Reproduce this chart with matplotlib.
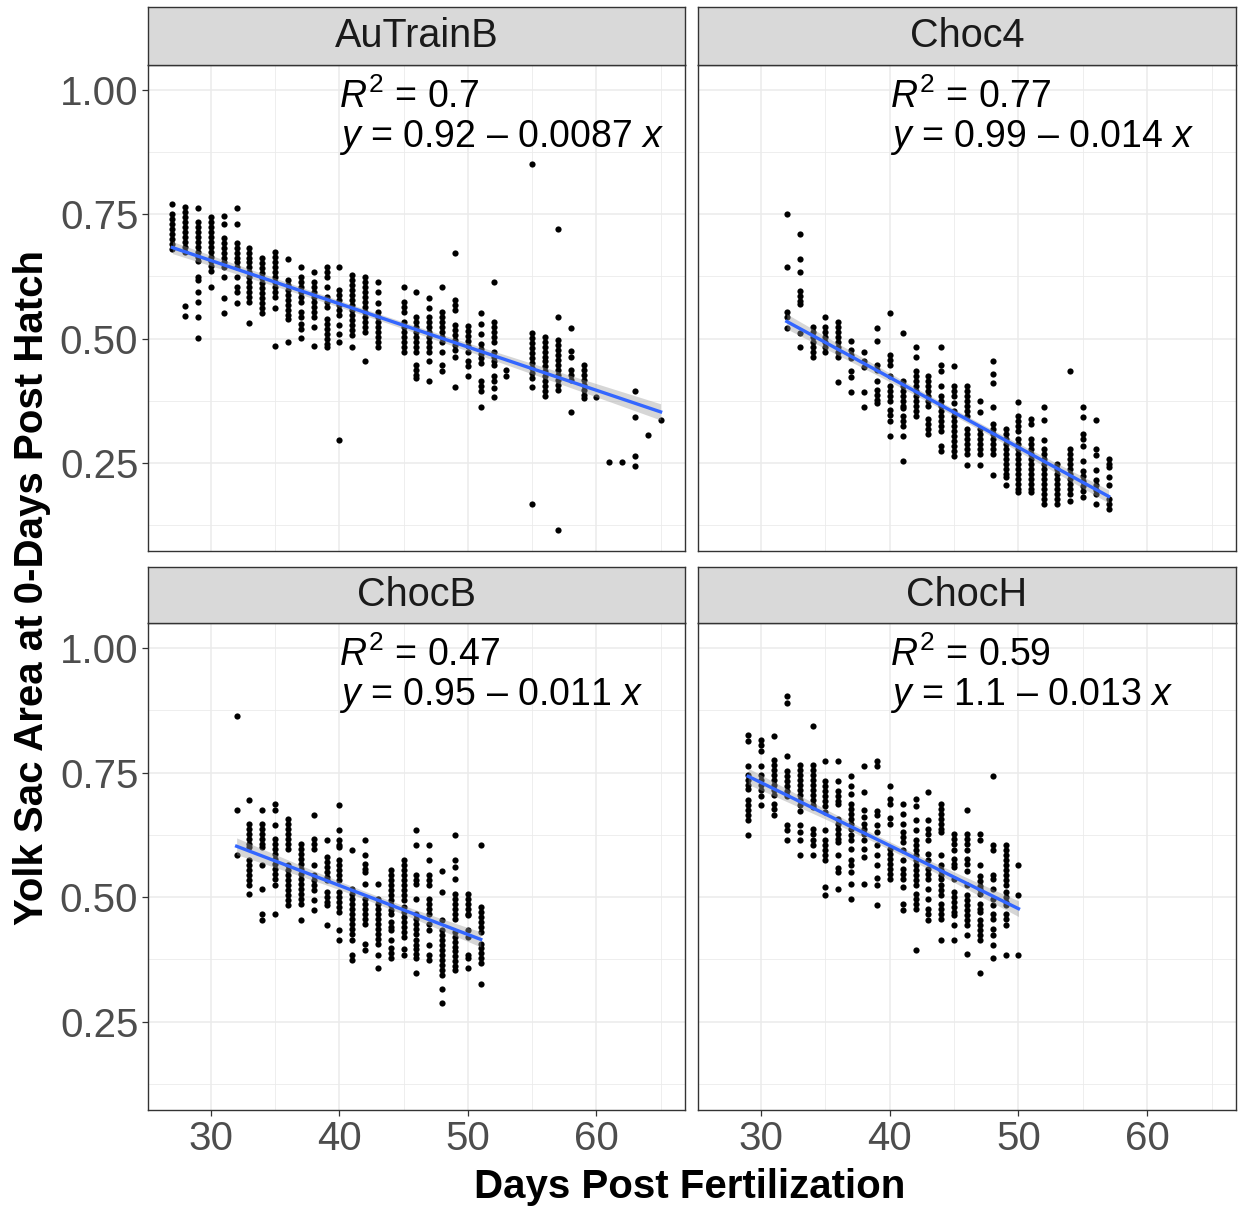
import numpy as np
import matplotlib.pyplot as plt

plt.rcParams['font.family'] = ['Liberation Sans', 'DejaVu Sans']
plt.rcParams['mathtext.fontset'] = 'custom'
plt.rcParams['mathtext.rm'] = 'Liberation Sans'
plt.rcParams['mathtext.it'] = 'Liberation Sans:italic'

# yolk sac area per day post fertilization
autrainb = {
    27: [0.77, 0.75, 0.74, 0.73, 0.72, 0.71, 0.70, 0.69, 0.68],
    28: [0.765, 0.755, 0.745, 0.735, 0.725, 0.715, 0.705, 0.695, 0.685, 0.675, 0.565, 0.545],
    29: [0.763, 0.735, 0.725, 0.715, 0.705, 0.695, 0.685, 0.675, 0.665, 0.655, 0.624, 0.617, 0.594, 0.574, 0.543, 0.502],
    30: [0.745, 0.735, 0.725, 0.715, 0.705, 0.695, 0.685, 0.675, 0.665, 0.655, 0.645, 0.635, 0.604],
    31: [0.747, 0.731, 0.703, 0.693, 0.683, 0.673, 0.663, 0.653, 0.644, 0.624, 0.582, 0.552],
    32: [0.762, 0.731, 0.693, 0.683, 0.673, 0.663, 0.653, 0.643, 0.624, 0.604, 0.594, 0.572],
    33: [0.683, 0.673, 0.663, 0.653, 0.643, 0.633, 0.623, 0.613, 0.603, 0.593, 0.583, 0.573, 0.532],
    34: [0.662, 0.652, 0.642, 0.632, 0.622, 0.612, 0.602, 0.592, 0.582, 0.572, 0.562, 0.552],
    35: [0.674, 0.664, 0.654, 0.644, 0.634, 0.624, 0.614, 0.604, 0.594, 0.584, 0.562, 0.485],
    36: [0.66, 0.617, 0.607, 0.597, 0.587, 0.577, 0.567, 0.557, 0.547, 0.54, 0.494],
    37: [0.644, 0.624, 0.614, 0.604, 0.594, 0.584, 0.574, 0.554, 0.544, 0.53, 0.52, 0.502],
    38: [0.634, 0.614, 0.604, 0.594, 0.584, 0.574, 0.564, 0.554, 0.544, 0.524, 0.485],
    39: [0.644, 0.634, 0.624, 0.604, 0.584, 0.574, 0.564, 0.54, 0.53, 0.52, 0.51, 0.5, 0.49, 0.484],
    40: [0.644, 0.597, 0.587, 0.577, 0.567, 0.557, 0.547, 0.527, 0.51, 0.494, 0.296],
    41: [0.627, 0.617, 0.607, 0.597, 0.587, 0.577, 0.567, 0.557, 0.547, 0.537, 0.527, 0.517, 0.507, 0.484],
    42: [0.624, 0.614, 0.604, 0.594, 0.584, 0.574, 0.564, 0.554, 0.544, 0.534, 0.524, 0.514, 0.454],
    43: [0.614, 0.594, 0.572, 0.554, 0.544, 0.534, 0.524, 0.514, 0.504, 0.494, 0.484],
    45: [0.604, 0.574, 0.564, 0.554, 0.534, 0.524, 0.514, 0.504, 0.494, 0.484, 0.474],
    46: [0.594, 0.544, 0.534, 0.524, 0.514, 0.504, 0.494, 0.484, 0.474, 0.447, 0.437, 0.427, 0.42],
    47: [0.582, 0.562, 0.544, 0.534, 0.524, 0.514, 0.504, 0.494, 0.484, 0.474, 0.454, 0.414],
    48: [0.604, 0.554, 0.544, 0.534, 0.524, 0.514, 0.504, 0.494, 0.474, 0.447, 0.434],
    49: [0.672, 0.577, 0.567, 0.557, 0.527, 0.517, 0.507, 0.497, 0.487, 0.477, 0.464, 0.403],
    50: [0.525, 0.515, 0.505, 0.495, 0.485, 0.474, 0.454, 0.444, 0.424],
    51: [0.552, 0.53, 0.51, 0.49, 0.48, 0.47, 0.46, 0.45, 0.414, 0.404, 0.394, 0.362],
    52: [0.614, 0.534, 0.524, 0.514, 0.504, 0.494, 0.474, 0.464, 0.454, 0.447, 0.424, 0.414, 0.40, 0.383],
    53: [0.437, 0.424],
    55: [0.85, 0.511, 0.501, 0.491, 0.481, 0.471, 0.461, 0.451, 0.441, 0.431, 0.421, 0.403, 0.167],
    56: [0.504, 0.494, 0.484, 0.474, 0.464, 0.454, 0.444, 0.434, 0.424, 0.414, 0.404, 0.394, 0.384],
    57: [0.721, 0.543, 0.497, 0.487, 0.477, 0.467, 0.457, 0.447, 0.437, 0.427, 0.417, 0.407, 0.397, 0.116],
    58: [0.522, 0.475, 0.464, 0.437, 0.427, 0.417, 0.353],
    59: [0.446, 0.436, 0.426, 0.416, 0.406, 0.396, 0.386, 0.38],
    60: [0.383],
    61: [0.252],
    62: [0.252],
    63: [0.394, 0.342, 0.264, 0.244],
    64: [0.306],
    65: [0.336],
}

choc4 = {
    32: [0.751, 0.644, 0.554, 0.544, 0.522],
    33: [0.711, 0.66, 0.634, 0.595, 0.585, 0.575, 0.57, 0.512, 0.484],
    34: [0.524, 0.514, 0.504, 0.494, 0.484, 0.474, 0.464],
    35: [0.543, 0.524, 0.514, 0.504, 0.494, 0.484, 0.474],
    36: [0.534, 0.524, 0.514, 0.504, 0.494, 0.484, 0.474, 0.464, 0.413],
    37: [0.495, 0.477, 0.467, 0.46, 0.434, 0.423, 0.393],
    38: [0.474, 0.454, 0.443, 0.393, 0.363],
    39: [0.522, 0.495, 0.447, 0.437, 0.414, 0.396, 0.386, 0.376, 0.37],
    40: [0.552, 0.467, 0.457, 0.447, 0.424, 0.404, 0.394, 0.384, 0.374, 0.356, 0.346, 0.334, 0.304],
    41: [0.512, 0.414, 0.404, 0.394, 0.384, 0.374, 0.364, 0.361, 0.344, 0.334, 0.324, 0.304, 0.254],
    42: [0.484, 0.464, 0.434, 0.424, 0.414, 0.404, 0.394, 0.384, 0.374, 0.364, 0.354, 0.344],
    43: [0.425, 0.415, 0.405, 0.395, 0.385, 0.375, 0.365, 0.338, 0.328, 0.318, 0.308],
    44: [0.484, 0.447, 0.434, 0.404, 0.384, 0.374, 0.364, 0.354, 0.344, 0.334, 0.324, 0.314, 0.284, 0.274],
    45: [0.444, 0.404, 0.394, 0.384, 0.371, 0.354, 0.344, 0.334, 0.324, 0.314, 0.304, 0.294, 0.284, 0.274, 0.264],
    46: [0.404, 0.394, 0.384, 0.374, 0.364, 0.354, 0.344, 0.318, 0.308, 0.298, 0.288, 0.278, 0.268, 0.245],
    47: [0.374, 0.353, 0.318, 0.308, 0.298, 0.288, 0.278, 0.268, 0.245],
    48: [0.454, 0.428, 0.411, 0.363, 0.328, 0.318, 0.308, 0.298, 0.288, 0.278, 0.268, 0.225],
    49: [0.318, 0.308, 0.298, 0.288, 0.278, 0.268, 0.258, 0.248, 0.238, 0.228, 0.221, 0.205],
    50: [0.373, 0.344, 0.334, 0.324, 0.314, 0.298, 0.288, 0.278, 0.268, 0.258, 0.248, 0.238, 0.228, 0.218, 0.208, 0.198, 0.191],
    51: [0.338, 0.328, 0.298, 0.288, 0.278, 0.268, 0.258, 0.248, 0.238, 0.228, 0.218, 0.208, 0.198, 0.191],
    52: [0.363, 0.336, 0.296, 0.278, 0.268, 0.258, 0.248, 0.238, 0.228, 0.218, 0.208, 0.198, 0.188, 0.178, 0.168],
    53: [0.248, 0.238, 0.228, 0.218, 0.208, 0.198, 0.188, 0.178, 0.168],
    54: [0.434, 0.278, 0.268, 0.258, 0.248, 0.238, 0.228, 0.218, 0.208, 0.198, 0.188, 0.173],
    55: [0.363, 0.343, 0.308, 0.298, 0.284, 0.254, 0.234, 0.224, 0.214, 0.204, 0.194, 0.181],
    56: [0.336, 0.278, 0.265, 0.236, 0.216, 0.206, 0.196, 0.188, 0.167],
    57: [0.258, 0.248, 0.241, 0.221, 0.205, 0.178, 0.168, 0.158],
}

chocb = {
    32: [0.864, 0.675, 0.584],
    33: [0.695, 0.646, 0.636, 0.626, 0.616, 0.606, 0.6, 0.574, 0.564, 0.554, 0.544, 0.534, 0.524, 0.506],
    34: [0.675, 0.647, 0.637, 0.627, 0.617, 0.607, 0.6, 0.564, 0.516, 0.467, 0.454],
    35: [0.687, 0.674, 0.644, 0.617, 0.607, 0.597, 0.587, 0.577, 0.567, 0.557, 0.547, 0.537, 0.524, 0.466],
    36: [0.657, 0.647, 0.637, 0.627, 0.617, 0.607, 0.597, 0.564, 0.554, 0.544, 0.534, 0.524, 0.514, 0.504, 0.494, 0.484],
    37: [0.607, 0.597, 0.587, 0.577, 0.567, 0.557, 0.547, 0.537, 0.527, 0.517, 0.507, 0.497, 0.486, 0.455],
    38: [0.665, 0.617, 0.607, 0.597, 0.564, 0.544, 0.534, 0.524, 0.514, 0.495, 0.475],
    39: [0.615, 0.58, 0.57, 0.56, 0.55, 0.54, 0.534, 0.511, 0.501, 0.491, 0.484, 0.445],
    40: [0.685, 0.635, 0.615, 0.605, 0.6, 0.574, 0.564, 0.554, 0.544, 0.534, 0.511, 0.501, 0.491, 0.481, 0.471, 0.434, 0.414],
    41: [0.594, 0.517, 0.507, 0.497, 0.487, 0.477, 0.467, 0.457, 0.447, 0.437, 0.427, 0.414, 0.384, 0.374],
    42: [0.615, 0.584, 0.567, 0.557, 0.55, 0.527, 0.497, 0.487, 0.477, 0.467, 0.457, 0.447, 0.407, 0.394],
    43: [0.527, 0.497, 0.487, 0.477, 0.467, 0.457, 0.447, 0.437, 0.427, 0.417, 0.407, 0.384, 0.358],
    44: [0.554, 0.544, 0.534, 0.524, 0.514, 0.504, 0.494, 0.484, 0.474, 0.467, 0.451, 0.441, 0.434, 0.414, 0.397, 0.387, 0.378],
    45: [0.574, 0.564, 0.554, 0.544, 0.534, 0.524, 0.514, 0.504, 0.494, 0.481, 0.471, 0.461, 0.451, 0.441, 0.431, 0.42, 0.395, 0.384],
    46: [0.635, 0.604, 0.544, 0.534, 0.527, 0.496, 0.467, 0.457, 0.447, 0.437, 0.427, 0.415, 0.405, 0.395, 0.385, 0.378, 0.348],
    47: [0.604, 0.574, 0.544, 0.534, 0.524, 0.497, 0.487, 0.477, 0.467, 0.447, 0.434, 0.404, 0.384, 0.374],
    48: [0.552, 0.511, 0.455, 0.434, 0.424, 0.414, 0.404, 0.394, 0.384, 0.374, 0.364, 0.354, 0.344, 0.316, 0.287],
    49: [0.624, 0.574, 0.56, 0.536, 0.507, 0.497, 0.487, 0.477, 0.467, 0.457, 0.431, 0.421, 0.411, 0.401, 0.391, 0.381, 0.371, 0.361, 0.354],
    50: [0.507, 0.497, 0.487, 0.477, 0.467, 0.464, 0.434, 0.421, 0.384, 0.378, 0.358],
    51: [0.604, 0.481, 0.471, 0.461, 0.451, 0.441, 0.431, 0.407, 0.397, 0.387, 0.377, 0.368, 0.326],
}

choch = {
    29: [0.826, 0.813, 0.763, 0.745, 0.735, 0.725, 0.717, 0.695, 0.685, 0.675, 0.665, 0.654, 0.624],
    30: [0.816, 0.806, 0.793, 0.763, 0.745, 0.735, 0.725, 0.715, 0.703, 0.685],
    31: [0.823, 0.775, 0.765, 0.755, 0.745, 0.735, 0.725, 0.715, 0.705, 0.687, 0.677, 0.664],
    32: [0.903, 0.89, 0.783, 0.753, 0.743, 0.733, 0.723, 0.713, 0.703, 0.645, 0.635, 0.614],
    33: [0.765, 0.755, 0.745, 0.735, 0.725, 0.715, 0.705, 0.695, 0.685, 0.673, 0.645, 0.63, 0.614, 0.584],
    34: [0.844, 0.765, 0.755, 0.745, 0.735, 0.725, 0.715, 0.705, 0.695, 0.685, 0.68, 0.636, 0.626, 0.614, 0.604, 0.584],
    35: [0.773, 0.733, 0.723, 0.713, 0.703, 0.693, 0.683, 0.67, 0.634, 0.614, 0.604, 0.594, 0.584, 0.574, 0.52, 0.504],
    36: [0.773, 0.733, 0.713, 0.703, 0.693, 0.687, 0.657, 0.647, 0.637, 0.627, 0.617, 0.61, 0.584, 0.559, 0.55, 0.517],
    37: [0.743, 0.723, 0.707, 0.687, 0.677, 0.667, 0.657, 0.647, 0.637, 0.624, 0.614, 0.597, 0.574, 0.564, 0.55, 0.526, 0.496],
    38: [0.763, 0.711, 0.675, 0.66, 0.647, 0.637, 0.627, 0.614, 0.597, 0.58, 0.526],
    39: [0.773, 0.763, 0.673, 0.664, 0.645, 0.63, 0.604, 0.584, 0.564, 0.539, 0.525, 0.485],
    40: [0.723, 0.697, 0.687, 0.658, 0.647, 0.597, 0.587, 0.577, 0.567, 0.557, 0.547, 0.537],
    41: [0.687, 0.667, 0.647, 0.63, 0.62, 0.61, 0.594, 0.574, 0.557, 0.547, 0.537, 0.521, 0.487, 0.474],
    42: [0.697, 0.683, 0.654, 0.634, 0.614, 0.604, 0.594, 0.584, 0.574, 0.564, 0.554, 0.544, 0.534, 0.524, 0.507, 0.497, 0.487, 0.476, 0.394],
    43: [0.711, 0.655, 0.637, 0.627, 0.614, 0.586, 0.574, 0.557, 0.547, 0.537, 0.517, 0.497, 0.477, 0.467, 0.454],
    44: [0.687, 0.677, 0.667, 0.657, 0.647, 0.637, 0.63, 0.584, 0.564, 0.554, 0.544, 0.537, 0.524, 0.514, 0.504, 0.487, 0.477, 0.467, 0.457, 0.414],
    45: [0.627, 0.617, 0.607, 0.594, 0.577, 0.567, 0.56, 0.537, 0.51, 0.5, 0.49, 0.48, 0.47, 0.464, 0.445, 0.414],
    46: [0.675, 0.627, 0.617, 0.607, 0.594, 0.576, 0.566, 0.552, 0.524, 0.504, 0.494, 0.484, 0.474, 0.464, 0.454, 0.444, 0.425, 0.385],
    47: [0.627, 0.614, 0.564, 0.542, 0.532, 0.522, 0.517, 0.506, 0.487, 0.477, 0.471, 0.454, 0.444, 0.434, 0.424, 0.414, 0.348],
    48: [0.743, 0.604, 0.594, 0.544, 0.537, 0.517, 0.497, 0.484, 0.467, 0.457, 0.437, 0.424, 0.404, 0.378],
    49: [0.605, 0.595, 0.585, 0.575, 0.565, 0.555, 0.545, 0.535, 0.524, 0.511, 0.501, 0.491, 0.484, 0.467, 0.457, 0.444, 0.384],
    50: [0.564, 0.505, 0.384],
}

panel_names = ['AuTrainB', 'Choc4', 'ChocB', 'ChocH']
panel_data = [autrainb, choc4, chocb, choch]
r2_text = ['0.7', '0.77', '0.47', '0.59']
eq_text = ['0.92 – 0.0087', '0.99 – 0.014', '0.95 – 0.011', '1.1 – 0.013']

W, H = 1238, 1208
fig = plt.figure(figsize=(W / 100, H / 100), dpi=100)


def rect(l, t, r, b):
    return [l / W, 1 - b / H, (r - l) / W, (b - t) / H]


cols = [(148, 685), (698, 1236)]
rows = [(7, 65, 551), (567, 623, 1110)]

for i, name in enumerate(panel_names):
    r, c = divmod(i, 2)
    l, rgt = cols[c]
    st, pt, pb = rows[r]
    ax = fig.add_axes(rect(l, pt, rgt, pb))
    sax = fig.add_axes(rect(l, st, rgt, pt))

    days = panel_data[i]
    x = np.concatenate([[d] * len(v) for d, v in days.items()]).astype(float)
    y = np.concatenate([v for v in days.values()])

    ax.set_xlim(25.1, 66.9)
    ax.set_ylim(0.073, 1.05)
    ax.set_xticks([30, 40, 50, 60])
    ax.set_xticks([35, 45, 55, 65], minor=True)
    ax.set_yticks([0.25, 0.50, 0.75, 1.00])
    ax.set_yticks([0.125, 0.375, 0.625, 0.875], minor=True)
    ax.grid(True, which='major', color='#EBEBEB', lw=1.1, zorder=0)
    ax.grid(True, which='minor', color='#EBEBEB', lw=0.6, zorder=0)
    ax.set_axisbelow(True)
    for sp in ax.spines.values():
        sp.set_color('#333333')
        sp.set_linewidth(1.0)
    ax.tick_params(which='major', length=4, width=0.9, color='#333333',
                   labelsize=29, labelcolor='#4D4D4D', pad=3)
    ax.tick_params(which='minor', length=0)
    ax.set_yticklabels(['0.25', '0.50', '0.75', '1.00'])
    if c == 1:
        ax.tick_params(axis='y', which='both', length=0, labelleft=False)
    if r == 0:
        ax.tick_params(axis='x', which='both', length=0, labelbottom=False)

    ax.scatter(x, y, s=20, color='black', linewidths=0, zorder=3)

    # lm fit with 95% band
    slope, icpt = np.polyfit(x, y, 1)
    xs = np.linspace(x.min(), x.max(), 80)
    fit = icpt + slope * xs
    resid = y - (icpt + slope * x)
    n = len(x)
    s2 = np.sum(resid ** 2) / (n - 2)
    se = np.sqrt(s2 * (1 / n + (xs - x.mean()) ** 2 / np.sum((x - x.mean()) ** 2)))
    ax.fill_between(xs, fit - 1.97 * se, fit + 1.97 * se, color='#999999',
                    alpha=0.4, lw=0, zorder=4)
    ax.plot(xs, fit, color='#3366FF', lw=2.4, zorder=5)

    ax.text(40, 0.985, '$R^2$ = ' + r2_text[i], fontsize=27, ha='left',
            va='center', zorder=6)
    ax.text(40, 0.905, '$y$ = ' + eq_text[i] + ' $x$', fontsize=27, ha='left',
            va='center', zorder=6)

    sax.set_facecolor('#D9D9D9')
    sax.set_xticks([])
    sax.set_yticks([])
    for sp in sax.spines.values():
        sp.set_color('#333333')
        sp.set_linewidth(1.0)
    sax.text(0.5, 0.5, name, transform=sax.transAxes, ha='center',
             va='center', fontsize=28.5, color='#1A1A1A')

fig.text(690 / W, 1 - 1187 / H, 'Days Post Fertilization', ha='center',
         va='center', fontsize=29, fontweight='bold')
fig.text(32 / W, 1 - 588 / H, 'Yolk Sac Area at 0-Days Post Hatch',
         ha='center', va='center', rotation=90, fontsize=29,
         fontweight='bold')

fig.savefig('out.png', dpi=100)
